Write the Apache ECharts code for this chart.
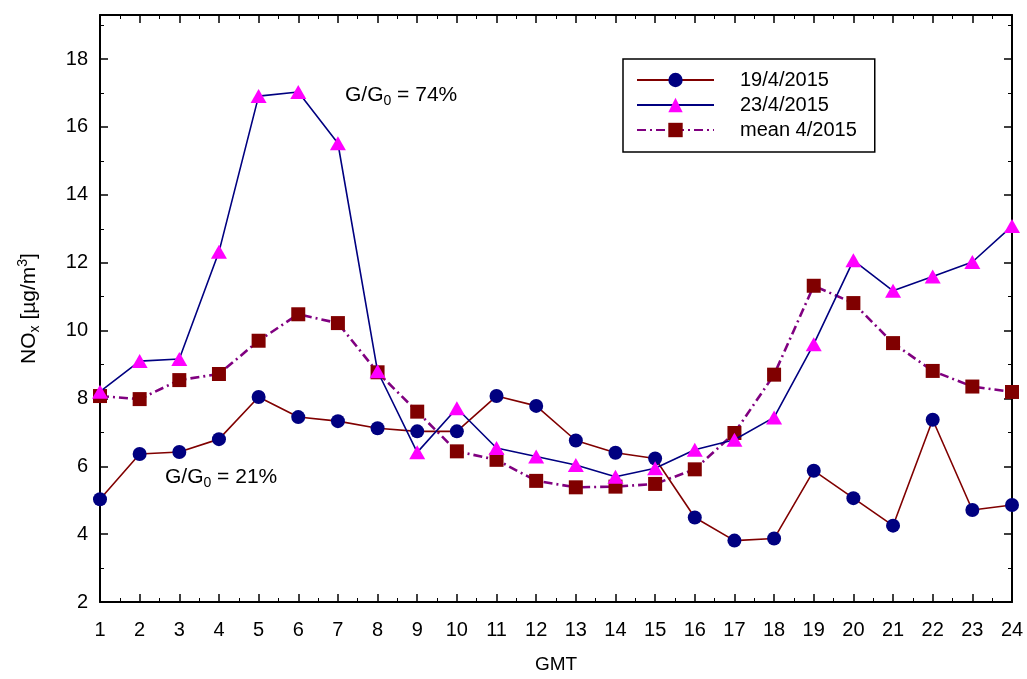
<!DOCTYPE html>
<html>
<head>
<meta charset="utf-8">
<script src="https://cdn.jsdelivr.net/npm/echarts@6/dist/echarts.min.js"></script>
<style>
html,body{margin:0;padding:0;background:#fff;}
#chart{width:1027px;height:679px;}
</style>
</head>
<body>
<div id="chart"></div>
<script>
const hours = [1,2,3,4,5,6,7,8,9,10,11,12,13,14,15,16,17,18,19,20,21,22,23,24];
const seriesNames = ['19/4/2015', '23/4/2015', 'mean 4/2015'];
const day19 = [5.03,6.36,6.42,6.80,8.04,7.45,7.33,7.12,7.03,7.03,8.07,7.78,6.76,6.40,6.23,4.49,3.81,3.87,5.87,5.06,4.25,7.37,4.71,4.86];
const day23 = [8.20,9.10,9.16,12.32,16.91,17.03,15.52,8.80,6.41,7.71,6.54,6.29,6.04,5.69,5.94,6.49,6.78,7.44,9.60,12.07,11.17,11.59,12.02,13.08];
const meanApr = [8.07,7.98,8.54,8.72,9.70,10.48,10.22,8.77,7.61,6.44,6.19,5.57,5.38,5.40,5.48,5.91,6.98,8.70,11.32,10.81,9.63,8.81,8.35,8.19];

const pairs = arr => hours.map((h, i) => [h, arr[i]]);
const font = 'Arial, "Liberation Sans", sans-serif';

const chart = echarts.init(document.getElementById('chart'), null, {renderer: 'canvas'});

const tickCommon = {
  axisLine: {show: true, onZero: false, lineStyle: {color: '#000', width: 2}},
  axisTick: {show: true, inside: true, length: 8, lineStyle: {color: '#000', width: 1.5}},
  minorTick: {show: true, splitNumber: 2, length: 4, lineStyle: {color: '#000', width: 1}},
  splitLine: {show: false},
  minorSplitLine: {show: false}
};

const richText = {
  a: {fontFamily: font, fontSize: 21, color: '#000', fill: '#000', lineHeight: 26, verticalAlign: 'middle'},
  sub: {fontFamily: font, fontSize: 14, color: '#000', fill: '#000', lineHeight: 26, verticalAlign: 'bottom'},
  sup: {fontFamily: font, fontSize: 14, color: '#000', fill: '#000', lineHeight: 26, verticalAlign: 'top'}
};

const option = {
  backgroundColor: '#fff',
  animation: false,
  grid: {left: 100, right: 15, top: 15, bottom: 77, containLabel: false},
  legend: {
    show: true,
    data: seriesNames,
    orient: 'vertical',
    left: 623, top: 59,
    padding: [11, 18, 12, 13],
    itemGap: 5,
    itemWidth: 77,
    itemHeight: 18,
    borderColor: '#000',
    borderWidth: 1.5,
    backgroundColor: '#fff',
    textStyle: {fontFamily: font, fontSize: 20, color: '#000', padding: [0, 0, 0, 21]},
  },
  xAxis: [
    Object.assign({
      type: 'value', min: 1, max: 24, interval: 1, position: 'bottom',
      name: 'GMT', nameLocation: 'middle', nameGap: 53,
      nameTextStyle: {fontFamily: font, fontSize: 19, color: '#000'},
      axisLabel: {fontFamily: font, fontSize: 20, color: '#000', margin: 18}
    }, tickCommon),
    Object.assign({
      type: 'value', min: 1, max: 24, interval: 1, position: 'top',
      axisLabel: {show: false}
    }, tickCommon)
  ],
  yAxis: [
    Object.assign({
      type: 'value', min: 2, max: 19.3, interval: 2, position: 'left',
      name: '{a|NO}{sub|x}{a| [µg/m}{sup|3}{a|]}',
      nameLocation: 'middle', nameGap: 58, nameRotate: 90,
      nameTextStyle: {fontFamily: font, fontSize: 21, color: '#000', rich: richText},
      axisLabel: {fontFamily: font, fontSize: 20, color: '#000', margin: 12, showMaxLabel: false,
        formatter: v => (Math.abs(v - Math.round(v)) < 1e-6 ? String(Math.round(v)) : '')}
    }, tickCommon),
    Object.assign({
      type: 'value', min: 2, max: 19.3, interval: 2, position: 'right',
      axisLabel: {show: false}
    }, tickCommon)
  ],
  series: [
    {
      name: seriesNames[0], type: 'line', data: pairs(day19),
      symbol: 'circle', symbolSize: 14,
      itemStyle: {color: '#000080', borderWidth: 0},
      lineStyle: {color: '#800000', width: 1.6},
      z: 3
    },
    {
      name: seriesNames[1], type: 'line', data: pairs(day23),
      symbol: 'triangle', symbolSize: [16, 14],
      itemStyle: {color: '#ff00ff', borderWidth: 0},
      lineStyle: {color: '#000080', width: 1.6},
      z: 4
    },
    {
      name: seriesNames[2], type: 'line', data: pairs(meanApr),
      symbol: 'rect', symbolSize: 14,
      itemStyle: {color: '#800000', borderWidth: 0},
      lineStyle: {color: '#800080', width: 2.6, type: [9, 4, 2, 4]},
      z: 2
    }
  ],
  graphic: [
    {
      type: 'text', left: 345, top: 85,
      style: {text: '{a|G/G}{sub|0}{a| = 74%}', rich: richText}
    },
    {
      type: 'text', left: 165, top: 467,
      style: {text: '{a|G/G}{sub|0}{a| = 21%}', rich: richText}
    }
  ]
};
chart.setOption(option);
</script>
</body>
</html>
